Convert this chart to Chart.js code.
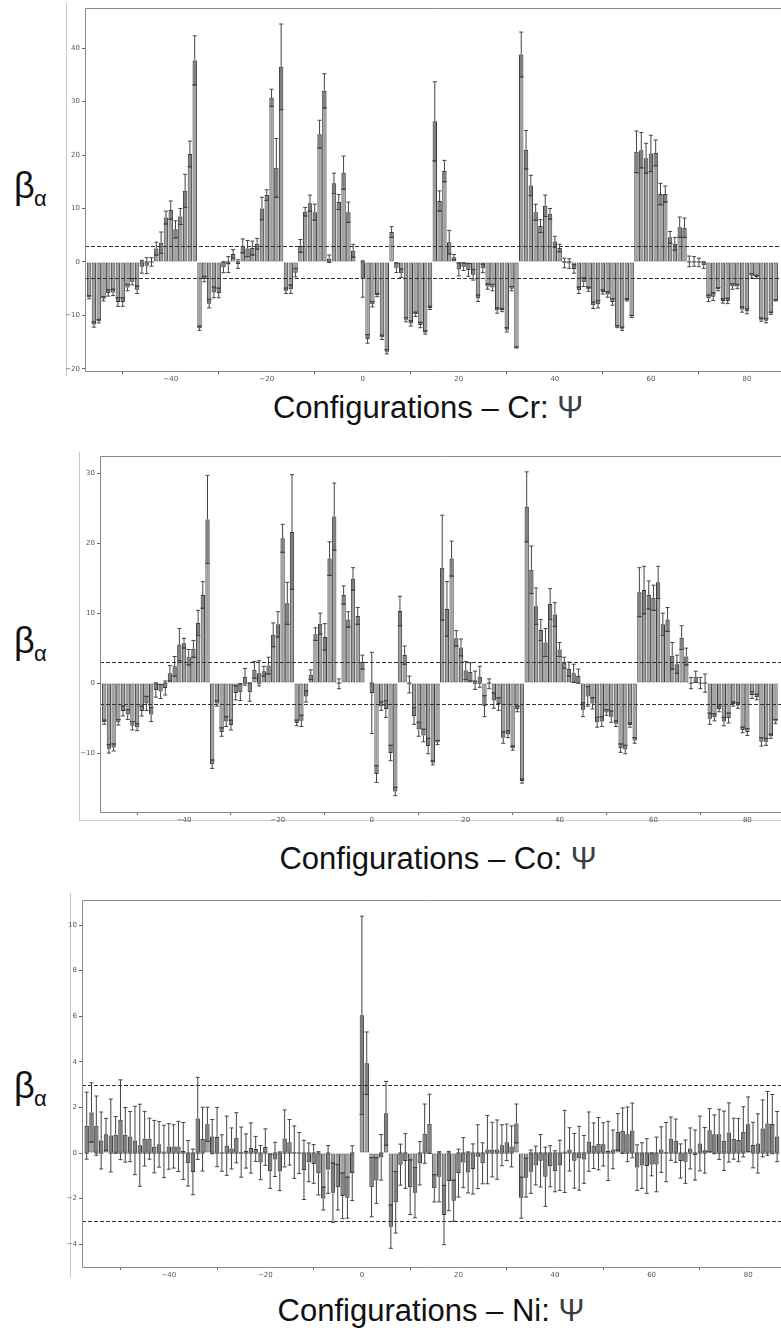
<!DOCTYPE html>
<html>
<head>
<meta charset="utf-8">
<script src="https://cdn.jsdelivr.net/npm/chart.js"></script>
<style>
  body { margin: 0; background: #fff; width: 781px; height: 1338px; position: relative; overflow: hidden; }
  canvas { position: absolute; }
  .edge { position: absolute; background: #c8c8c8; }
  .beta { position: absolute; font-family: "Liberation Sans", Arial, sans-serif; font-size: 36px; line-height: 36px; color: #111; }
  .alpha { position: absolute; font-family: "Liberation Sans", Arial, sans-serif; font-size: 22px; line-height: 22px; color: #111; }
  .caption { position: absolute; font-family: "Liberation Sans", Arial, sans-serif; font-size: 31px; line-height: 31px; color: #111; white-space: nowrap; transform: translateX(-50%); }
  .caption span { color: #3a3d44; }
</style>
</head>
<body>
<div class="edge" style="left:66px;top:3px;width:1px;height:373px"></div>
<div class="edge" style="left:79px;top:452px;width:1px;height:369px"></div>
<div class="edge" style="left:79px;top:820px;width:702px;height:1px"></div>
<div class="edge" style="left:70px;top:893px;width:1px;height:385px"></div>

<canvas id="grafCr" width="726" height="386" style="left:55px;top:0px"></canvas>
<canvas id="grafCo" width="711" height="380" style="left:70px;top:447px"></canvas>
<canvas id="grafNi" width="729" height="390" style="left:52px;top:892px"></canvas>

<div class="beta" style="left:14px;top:168px">β</div>
<div class="alpha" style="left:34px;top:188px">α</div>
<div class="beta" style="left:14px;top:623px">β</div>
<div class="alpha" style="left:34px;top:643px">α</div>
<div class="beta" style="left:14px;top:1068px">β</div>
<div class="alpha" style="left:34px;top:1088px">α</div>

<div class="caption" style="left:428px;top:392px">Configurations – Cr: <span>Ψ</span></div>
<div class="caption" style="left:438px;top:843px">Configurations – Co: <span>Ψ</span></div>
<div class="caption" style="left:431px;top:1295px">Configurations – Ni: <span>Ψ</span></div>

<script>
// configuraciones (eje x)
const configuraciones = [
  -57,-56,-55,-54,-53,-52,-51,-50,-49,-48,
  -47,-46,-45,-44,-43,-42,-41,-40,-39,-38,
  -37,-36,-35,-34,-33,-32,-31,-30,-29,-28,
  -27,-26,-25,-24,-23,-22,-21,-20,-19,-18,
  -17,-16,-15,-14,-13,-12,-11,-10,-9,-8,
  -7,-6,-5,-4,-3,-2,-1,0,1,2,
  3,4,5,6,7,8,9,10,11,12,
  13,14,15,16,17,18,19,20,21,22,
  23,24,25,26,27,28,29,30,31,32,
  33,34,35,36,37,38,39,40,41,42,
  43,44,45,46,47,48,49,50,51,52,
  53,54,55,56,57,58,59,60,61,62,
  63,64,65,66,67,68,69,70,71,72,
  73,74,75,76,77,78,79,80,81,82,
  83,84,85,86
];

// Cr
const crValores = [
  -6.6,-11.7,-11.1,-6.9,-5.8,-5.7,-7.5,-7.5,-4.8,-3.7,
  -5.2,-0.9,-0.7,0.0,2.5,3.6,8.3,9.7,6.1,8.5,
  13.3,20.2,37.7,-12.4,-3.2,-7.8,-5.7,-5.8,-1.0,-0.5,
  1.5,-0.4,3.0,2.5,2.6,3.4,10.0,12.5,30.7,17.6,
  36.5,-5.4,-5.1,-2.0,3.0,9.4,11.0,9.3,23.9,32.0,
  0.6,14.7,11.2,16.7,9.3,2.1,0,-3.2,-14.4,-7.9,
  -6.2,-14.1,-16.8,5.6,-1.1,-2.1,-10.8,-11.5,-9.8,-11.8,
  -13.2,-8.6,26.3,11.4,17.0,3.7,0.9,-1.4,-0.9,-1.5,
  -2.4,-6.8,-1.2,-4.6,-4.8,-9.1,-9.0,-12.7,-5.0,-16.0,
  38.8,21.0,14.3,9.3,6.7,10.5,9.0,3.8,2.6,-0.2,
  -0.3,-1.3,-5.3,-3.8,-5.1,-8.1,-7.9,-5.6,-6.1,-7.5,
  -12.1,-12.5,-7.1,-10.2,20.6,20.9,19.4,20.3,20.4,12.7,
  12.7,4.6,3.4,6.5,6.4,0.1,0.1,-0.1,-0.6,-6.8,
  -6.5,-5.1,-7.3,-7.3,-4.6,-4.6,-8.9,-9.2,-2.6,-2.8,
  -10.8,-11.0,-9.6,-7.2
];
const crErrores = [
  0.3,0.5,0.3,0.4,0.6,0.6,0.8,0.8,0.6,0.6,
  0.7,1.2,1.5,0.8,1.2,2.0,1.2,1.7,1.6,1.5,
  3.1,2.4,4.6,0.4,0.5,0.8,1.0,0.9,1.0,1.5,
  0.8,0.8,1.3,1.5,1.3,1.0,2.1,1.0,1.6,5.5,
  8.0,0.5,0.8,0.8,1.2,0.8,1.5,1.5,2.6,3.2,
  0.7,1.9,1.4,3.1,1.9,1.2,0,3.4,0.8,0.5,
  0.3,0.4,0.4,1.0,0.9,0.8,0.4,0.5,0.4,0.5,
  0.3,0.3,7.4,1.9,2.0,2.2,0.5,1.2,0.7,1.2,
  1.0,0.6,0.8,0.5,0.6,0.5,0.3,0.4,0.4,0.1,
  4.2,3.6,1.9,1.5,1.2,2.0,1.0,1.0,0.7,0.9,
  0.9,0.8,0.6,0.8,0.4,0.6,0.7,0.4,0.5,0.6,
  0.2,0.3,0.2,0.2,3.9,3.3,2.8,3.4,2.4,2.0,
  1.5,1.1,1.2,1.9,1.8,1.0,0.9,0.8,0.6,0.6,
  0.7,0.3,0.4,0.5,0.5,0.4,0.5,0.5,0.4,0.3,
  0.3,0.4,0.2,0.1
];

// Co
const coValores = [
  -5.6,-9.4,-9.2,-5.6,-4.0,-4.5,-6.1,-6.3,-4.0,-2.9,
  -4.5,-1.0,-1.2,-0.7,1.4,2.4,5.5,5.7,3.7,4.9,
  8.6,12.6,23.4,-11.6,-2.9,-7.0,-5.5,-6.0,-1.4,-1.3,
  0.9,-1.3,1.9,1.4,1.7,2.5,6.9,8.4,20.7,11.4,
  21.6,-5.7,-5.4,-1.9,1.2,7.0,8.5,6.6,17.8,23.8,
  -0.1,12.6,9.1,14.9,9.6,3.0,0,-1.4,-13.0,-3.3,
  -3.7,-10.0,-15.5,10.3,4.0,-0.2,-4.7,-6.6,-7.5,-9.0,
  -11.4,-8.5,16.5,10.6,17.8,6.4,5.1,1.8,1.6,0.4,
  0.9,-3.3,-0.1,-2.5,-3.0,-7.8,-7.3,-9.3,-3.7,-14.0,
  25.2,16.2,11.0,7.6,5.8,11.3,9.8,4.8,2.9,2.0,
  1.4,1.0,-3.8,-1.9,-2.9,-5.6,-5.5,-4.2,-4.8,-5.8,
  -9.3,-9.5,-6.0,-8.2,13.0,13.3,12.6,12.2,14.4,8.4,
  9.1,3.9,2.7,6.5,3.8,0.0,0.9,0.0,0.0,-5.1,
  -4.9,-3.7,-5.5,-5.0,-3.0,-3.2,-6.7,-7.0,-1.7,-2.0,
  -8.4,-8.4,-7.6,-5.5
];
const coErrores = [
  0.3,0.6,0.5,0.4,0.7,0.7,0.6,0.5,0.7,1.0,
  1.0,1.0,1.0,1.0,1.1,1.4,2.3,0.7,1.1,1.2,
  1.8,1.9,6.3,0.6,0.4,0.6,0.7,0.7,1.0,1.2,
  1.2,1.3,1.2,1.8,0.7,1.2,1.7,1.8,2.0,3.0,
  8.2,0.4,0.8,0.8,0.7,0.9,1.5,1.9,2.4,4.8,
  0.7,1.3,1.1,1.6,1.2,1.0,0,5.8,1.2,0.6,
  1.2,1.1,0.6,2.1,1.3,1.2,1.2,1.0,0.9,1.1,
  0.3,0.3,7.5,3.9,2.5,1.1,1.2,1.3,1.3,1.3,
  1.5,1.5,0.7,1.1,0.9,0.8,0.5,0.3,0.4,0.3,
  5.0,3.4,2.6,1.5,2.0,2.2,1.7,1.0,0.8,1.0,
  1.3,1.0,1.0,1.4,0.8,0.7,0.7,0.4,0.8,0.4,
  0.6,0.6,0.3,0.4,3.5,3.4,2.0,1.8,2.3,1.6,
  1.7,1.9,1.3,1.7,1.2,0.8,0.8,0.8,1.3,0.8,
  0.5,0.4,0.6,0.7,0.3,0.4,0.4,0.5,0.5,0.4,
  0.6,0.5,0.3,0.3
];

// Ni
const niValores = [
  1.2,1.78,1.2,0.55,0.82,0.77,0.8,1.46,0.8,0.72,
  0.55,0.34,0.63,0.63,0.28,0.38,0.07,0.29,0.29,0.29,
  0.09,-0.45,-0.83,1.52,0.61,1.26,0.72,0.7,0.0,0.32,
  0.2,0.67,0.04,0.09,0.22,0.18,-0.42,0.26,-0.8,-0.28,
  -0.8,0.64,0.47,0.04,0.0,-0.74,-0.41,-0.48,-0.89,-2.0,
  -0.72,-1.74,-1.5,-1.88,-1.96,-0.88,0,6.04,3.94,-1.5,
  -1.21,-0.19,1.74,-3.23,-2.16,-0.51,-0.35,-1.5,-1.74,-0.45,
  0.85,1.28,-1.55,-1.04,-2.72,-1.23,-2.09,-0.88,-0.42,-0.85,
  -0.7,-0.16,-0.45,0.15,0.15,0.15,0.34,0.47,0.29,1.3,
  -1.96,-1.08,-0.82,-0.55,-0.34,-1.04,-0.58,-0.8,-0.54,0.07,
  0.16,-0.34,-0.23,-0.28,0.5,0.32,0.41,0.38,0.09,0.16,
  0.93,0.98,0.82,0.99,-0.64,-0.55,-0.57,-0.5,-0.5,0.15,
  0.04,0.63,0.54,-0.35,-0.38,0.2,-0.09,0.42,0.12,1.0,
  0.82,0.82,0.54,0.9,0.63,0.57,0.93,1.26,0.35,0.42,
  1.08,1.3,1.27,0.72
];
const niErrores = [
  1.47,1.3,1.3,1.25,0.7,1.6,0.8,1.75,1.2,1.1,
  1.5,1.8,1.2,0.9,1.15,1.0,1.15,1.0,0.95,1.1,
  1.25,1.0,1.0,1.8,1.4,0.75,0.75,1.3,0.8,1.3,
  0.9,1.1,1.1,0.75,1.1,0.55,0.75,0.8,0.75,0.75,
  0.85,1.25,1.0,1.15,0.9,1.3,0.85,0.85,0.95,0.5,
  1.05,1.3,1.0,1.0,0.9,1.2,0,4.35,1.37,1.3,
  1.0,1.0,1.4,0.95,1.35,0.9,1.2,1.2,1.1,0.95,
  1.3,1.3,0.6,1.1,1.3,1.3,0.9,1.05,1.1,0.9,
  1.1,1.4,0.9,1.5,1.2,1.3,0.9,0.8,0.9,0.85,
  0.9,0.85,0.95,0.85,1.15,1.3,0.9,0.9,1.1,1.8,
  0.95,1.2,1.4,1.05,1.3,1.0,1.15,0.95,1.3,0.85,
  0.8,1.0,1.2,1.2,1.0,1.0,1.2,0.5,1.2,1.0,
  1.3,0.95,0.95,0.75,0.95,0.9,1.1,1.2,1.0,0.95,
  0.85,1.1,1.3,1.3,0.9,0.95,1.1,1.2,1.0,1.3,
  1.25,1.4,1.3,1.1
];

// ticks y umbral
const ticksX = [-40, -20, 0, 20, 40, 60, 80];
const ticksCr = [-20, -10, 0, 10, 20, 30, 40];
const ticksCo = [-10, 0, 10, 20, 30];
const ticksNi = [-4, -2, 0, 2, 4, 6, 8, 10];
const umbral = 3;

// plugin: barras de error, lineas de umbral y marco
const pluginErrores = {
  id: "errores",
  afterDatasetsDraw(chart, args, opts) {
    const ctx = chart.ctx;
    const yScale = chart.scales.y;
    const area = chart.chartArea;
    const meta = chart.getDatasetMeta(0);
    const datos = chart.data.datasets[0].data;
    ctx.save();
    ctx.beginPath();
    ctx.rect(area.left, area.top, area.right - area.left, area.bottom - area.top);
    ctx.clip();
    meta.data.forEach((barra, i) => {
      const v = datos[i].y;
      const e = opts.errores[i];
      if (!e) return;
      const x = barra.x;
      const w = barra.width;
      const py = yScale.getPixelForValue(v);
      const cero = yScale.getPixelForValue(0);
      const interior = v >= 0 ? Math.max(0, v - e) : Math.min(0, v + e);
      const pi = yScale.getPixelForValue(interior);
      // tramo del error dentro de la barra, mas oscuro
      ctx.fillStyle = "rgba(30,30,30,0.26)";
      ctx.fillRect(x - w / 2 + 0.5, Math.min(py, pi), w - 1, Math.abs(pi - py));
      ctx.strokeStyle = "#3a3a3a";
      ctx.lineWidth = 1;
      ctx.beginPath();
      ctx.moveTo(x - w / 2, pi);
      ctx.lineTo(x + w / 2, pi);
      ctx.stroke();
      const arriba = yScale.getPixelForValue(v + e);
      const abajo = yScale.getPixelForValue(v - e);
      ctx.strokeStyle = "#444";
      ctx.beginPath();
      if (v >= 0) {
        ctx.moveTo(x, py); ctx.lineTo(x, arriba);
        if (v - e < 0) { ctx.moveTo(x, cero); ctx.lineTo(x, abajo); }
      } else {
        ctx.moveTo(x, py); ctx.lineTo(x, abajo);
        if (v + e > 0) { ctx.moveTo(x, cero); ctx.lineTo(x, arriba); }
      }
      ctx.moveTo(x - 2, arriba); ctx.lineTo(x + 2, arriba);
      ctx.moveTo(x - 2, abajo); ctx.lineTo(x + 2, abajo);
      ctx.stroke();
    });
    // lineas punteadas en +3 y -3
    ctx.strokeStyle = "#333";
    ctx.lineWidth = 1.1;
    ctx.setLineDash([4, 2]);
    [umbral, -umbral].forEach((u) => {
      const yu = Math.round(yScale.getPixelForValue(u)) + 0.5;
      ctx.beginPath();
      ctx.moveTo(area.left, yu);
      ctx.lineTo(area.right, yu);
      ctx.stroke();
    });
    ctx.restore();
    // marco
    ctx.save();
    ctx.strokeStyle = "#8a8a8a";
    ctx.lineWidth = 1;
    ctx.beginPath();
    ctx.moveTo(area.right, Math.round(area.top) + 0.5);
    ctx.lineTo(Math.round(area.left) + 0.5, Math.round(area.top) + 0.5);
    ctx.lineTo(Math.round(area.left) + 0.5, Math.round(area.bottom) + 0.5);
    ctx.lineTo(area.right, Math.round(area.bottom) + 0.5);
    ctx.stroke();
    ctx.restore();
  },
};

function etiqueta(v) {
  return v < 0 ? "\u2212" + Math.abs(v) : String(v);
}

function renderGrafica(id, valores, errores, ticksY, yMin, yMax, xMin, xMax, padTop) {
  const data = configuraciones.map((c, i) => ({ x: c, y: valores[i] }));
  const config = {
    type: "bar",
    data: {
      datasets: [
        {
          data,
          backgroundColor: "#9f9f9f",
          borderColor: "#404040",
          borderWidth: 1,
          borderSkipped: false,
          barPercentage: 0.92,
          categoryPercentage: 1.0,
        },
      ],
    },
    options: {
      responsive: false,
      animation: false,
      devicePixelRatio: 1,
      layout: { padding: { top: padTop, left: 0, right: 0, bottom: 0 } },
      plugins: {
        legend: { display: false },
        tooltip: { enabled: false },
        errores: { errores },
      },
      scales: {
        x: {
          type: "linear",
          min: xMin,
          max: xMax,
          offset: false,
          afterBuildTicks: (eje) => { eje.ticks = ticksX.map((v) => ({ value: v })); },
          afterFit: (eje) => { eje.height = 15; },
          grid: { drawOnChartArea: false, drawTicks: true, tickLength: 3, color: "#666" },
          border: { display: false },
          ticks: { autoSkip: false, maxRotation: 0, padding: 1, color: "#555", font: { size: 7, family: "DejaVu Sans" }, callback: etiqueta },
        },
        y: {
          min: yMin,
          max: yMax,
          afterBuildTicks: (eje) => { eje.ticks = ticksY.map((v) => ({ value: v })); },
          afterFit: (eje) => { eje.width = 30; },
          grid: { drawOnChartArea: false, drawTicks: true, tickLength: 3, color: "#666" },
          border: { display: false },
          ticks: { autoSkip: false, padding: 2, color: "#555", font: { size: 7, family: "DejaVu Sans" }, callback: etiqueta },
        },
      },
    },
    plugins: [pluginErrores],
  };
  new Chart(document.getElementById(id), config);
}

renderGrafica("grafCr", crValores, crErrores, ticksCr, -20.4, 47.5, -57.85, 87.1, 8);
renderGrafica("grafCo", coValores, coErrores, ticksCo, -18.43, 32.51, -57.9, 87.17, 8.7);
renderGrafica("grafNi", niValores, niErrores, ticksNi, -5.0, 11.1, -57.97, 86.8, 8);
</script>
</body>
</html>
